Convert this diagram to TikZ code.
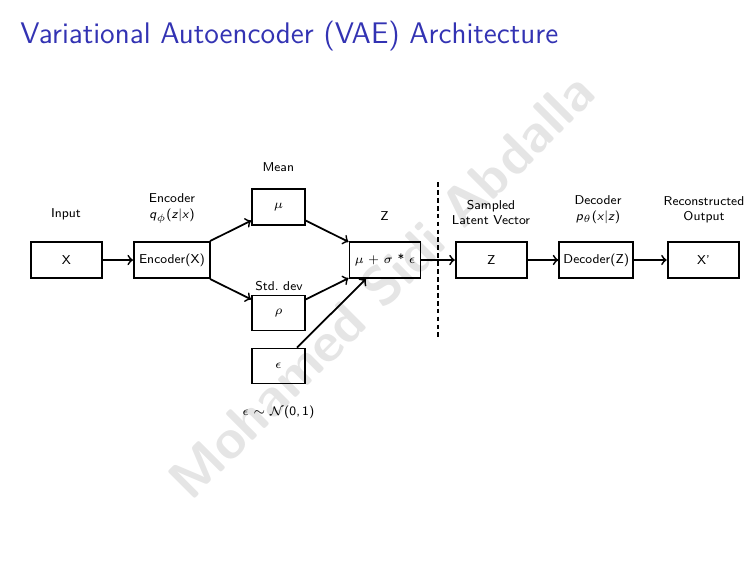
\documentclass[tikz,border=0pt]{standalone}
\usetikzlibrary{arrows}
\definecolor{beamerblue}{RGB}{51,51,179}
\begin{document}
\begin{tikzpicture}[x=0.47994pt,y=-0.47994pt,
  every node/.style={font=\fontsize{6.15}{7.4}\selectfont\sffamily},
  box/.style={draw,line width=0.9pt,minimum height=17.3pt,inner sep=0pt},
  lbl/.style={align=center,inner sep=0pt},
  arr/.style={->,line width=0.85pt},
  sepline/.style={line width=1pt,dash pattern=on 2.3pt off 1.5pt}]
\useasboundingbox (0,0) rectangle (756,567);
% watermark
\node[rotate=45,text=black!10,font=\fontsize{26.5}{30}\selectfont\sffamily\bfseries] (wm) at (381,286) {Mohamed Sidi Abdalla};
% title
\node[anchor=base west,inner sep=0pt,text=beamerblue,font=\fontsize{14.3}{17}\selectfont\sffamily] (title) at (20,43.3) {Variational Autoencoder (VAE) Architecture};
% boxes
\node[box,minimum width=34.1pt] (x) at (66.5,260) {X};
\node[box,minimum width=36.5pt] (enc) at (172,260) {Encoder(X)};
\node[box,minimum width=25.4pt] (mu) at (278.5,207) {$\mu$};
\node[box,minimum width=25.4pt,minimum height=16.8pt] (rho) at (278.5,313) {$\rho$};
\node[box,minimum width=25.4pt,minimum height=16.8pt] (eps) at (278.5,366) {$\epsilon$};
\node[box,minimum width=34.1pt] (rep) at (385,260) {$\mu$ + $\sigma$ * $\epsilon$};
\node[box,minimum width=34.1pt] (z) at (491.3,260) {Z};
\node[box,minimum width=35.5pt] (dec) at (596.3,260) {Decoder(Z)};
\node[box,minimum width=34.4pt] (xp) at (703.5,260) {X'};
% labels
\node[lbl,anchor=base] (linput) at (66,217.7) {Input};
\node[lbl] (lenc) at (172,208.5) {Encoder\\\textit{q}$_\phi$(\textit{z}|\textit{x})};
\node[lbl,anchor=base] (lmean) at (278.3,171) {Mean};
\node[lbl,anchor=base] (lz) at (384.5,220) {Z};
\node[lbl,anchor=base] (lstd) at (279,290) {Std.\ dev};
\node[lbl,anchor=base] (lnoise) at (278.3,415) {$\epsilon\sim\mathcal{N}$(0,\,1)};
\node[lbl] (lsamp) at (491,212.5) {Sampled\\Latent Vector};
\node[lbl] (ldec) at (598,209.5) {Decoder\\\textit{p}$_\theta$(\textit{x}|\textit{z})};
\node[lbl] (lrec) at (704,209.5) {Reconstructed\\Output};
% dashed separator
\coordinate (d1) at (437.7,182);
\coordinate (d2) at (437.7,337);
\draw[sepline] (d1) -- (d2);
% arrows
\draw[arr] (x) -- (enc);
\draw[arr] (enc) -- (mu);
\draw[arr] (enc) -- (rho);
\draw[arr] (mu) -- (rep);
\draw[arr] (rho) -- (rep);
\draw[arr] (eps) -- (rep);
\draw[arr] (rep) -- (z);
\draw[arr] (z) -- (dec);
\draw[arr] (dec) -- (xp);
\end{tikzpicture}
\end{document}
